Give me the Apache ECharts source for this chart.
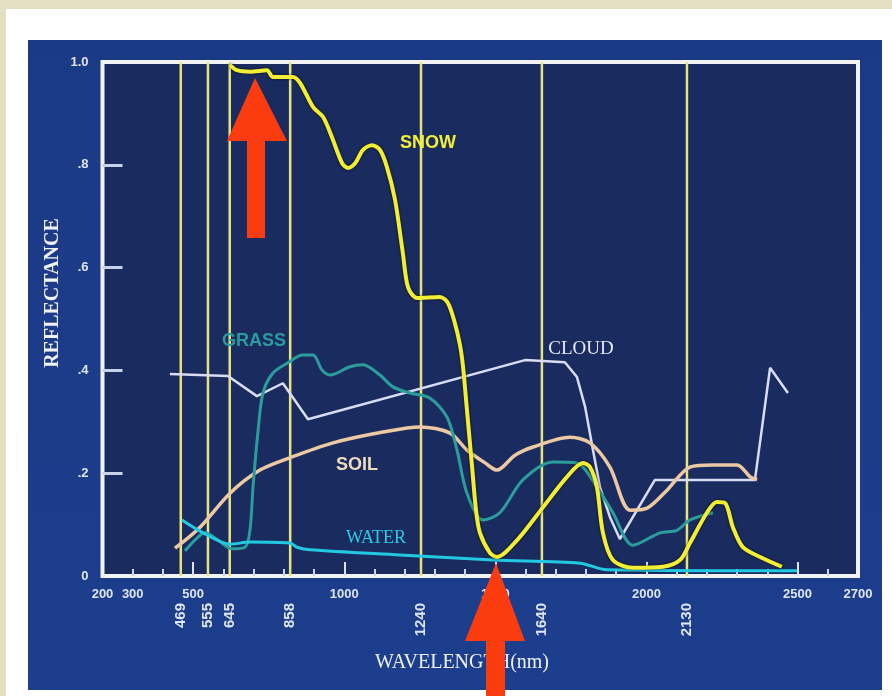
<!DOCTYPE html>
<html><head><meta charset="utf-8">
<script src="https://cdn.jsdelivr.net/npm/echarts@6/dist/echarts.min.js"></script>
<style>
html,body{margin:0;padding:0;width:892px;height:696px;overflow:hidden;background:#e4dfc2;}
#frame{position:absolute;left:6px;top:9px;width:886px;height:687px;background:#ffffff;}
#panel{position:absolute;left:28px;top:40px;width:854px;height:650px;background:linear-gradient(180deg,#1b3a86 0%,#1c3e8c 100%);}
#chart{position:absolute;left:0;top:0;width:892px;height:696px;}
</style></head><body>
<div id="frame"></div><div id="panel"></div><div id="chart"></div>
<script>
// ---- data ----
var xTickLabels = [200, 300, 500, 1000, 1500, 2000, 2500, 2700];
var xMajorTicks = [500, 1000, 1500, 2000, 2500];
var yTickLabels = ["0", ".2", ".4", ".6", ".8", "1.0"];
var bandPos = [459, 549, 621, 821, 1254, 1654, 2134];
var bandLabels = ["469", "555", "645", "858", "1240", "1640", "2130"];

var snowX = [622,645,688,744,764,830,854,897,930,959,993,1012,1036,1062,1092,1118,1141,1168,1194,1211,1241,1317,1343,1366,1383,1393,1406,1423,1436,1449,1482,1505,1572,1658,1737,1790,1813,1836,1856,1889,1955,2055,2111,2144,2200,2233,2260,2286,2319,2376,2448];
var snowY = [0.994,0.984,0.981,0.984,0.971,0.971,0.959,0.912,0.893,0.854,0.803,0.794,0.803,0.829,0.838,0.829,0.796,0.732,0.628,0.562,0.541,0.543,0.531,0.492,0.449,0.407,0.323,0.212,0.128,0.084,0.045,0.037,0.070,0.134,0.193,0.220,0.212,0.173,0.084,0.031,0.016,0.018,0.031,0.064,0.123,0.144,0.142,0.095,0.056,0.037,0.018];

var grassX = [473,506,539,582,629,672,688,698,715,731,764,811,863,897,926,953,1019,1062,1118,1161,1218,1284,1340,1373,1406,1459,1515,1591,1691,1770,1836,1889,1955,2045,2101,2144,2220];
var grassY = [0.049,0.070,0.084,0.070,0.053,0.056,0.089,0.173,0.284,0.356,0.395,0.414,0.430,0.430,0.401,0.391,0.407,0.411,0.391,0.368,0.356,0.346,0.309,0.245,0.161,0.109,0.123,0.187,0.222,0.220,0.173,0.123,0.060,0.084,0.089,0.109,0.123];

var cloudX = [423,615,711,797,880,1598,1730,1770,1797,1823,1846,1879,1912,2028,2359,2409,2468];
var cloudY = [0.393,0.389,0.350,0.375,0.305,0.420,0.416,0.387,0.329,0.245,0.173,0.115,0.072,0.187,0.187,0.405,0.356];

var soilX = [440,523,622,721,820,963,1128,1251,1350,1406,1466,1505,1565,1625,1747,1813,1879,1946,2002,2068,2144,2220,2300,2343,2366];
var soilY = [0.054,0.095,0.161,0.206,0.230,0.259,0.280,0.290,0.278,0.245,0.220,0.206,0.235,0.251,0.270,0.259,0.212,0.128,0.132,0.167,0.212,0.216,0.216,0.193,0.187];

var waterX = [463,533,622,688,820,844,887,1184,1492,1780,1869,2498];
var waterY = [0.109,0.084,0.062,0.066,0.064,0.056,0.051,0.041,0.031,0.025,0.012,0.010];

// ---- build ----
function pairs(xs, ys) { return xs.map(function (x, i) { return [x, ys[i]]; }); }
var minorTicks = [];
for (var t = 300; t <= 2600; t += 100) minorTicks.push(t);

var chart = echarts.init(document.getElementById('chart'), null, {renderer: 'canvas'});
var labelColor = '#dfe5f3';
var sans = '"Liberation Sans", Arial, sans-serif';
var serif = '"Liberation Serif", "Times New Roman", serif';

var series = [];
bandPos.forEach(function (v) {
  series.push({
    type: 'line', data: [[v, 0], [v, 1]], showSymbol: false, silent: true, z: 1,
    lineStyle: {color: '#e6e47e', width: 2.5}
  });
});
function curve(xs, ys, color, width, smooth, extra) {
  series.push({
    type: 'line', data: pairs(xs, ys), showSymbol: false, smooth: smooth, silent: true, z: 3,
    lineStyle: Object.assign({color: color, width: width}, extra || {})
  });
}
curve(cloudX, cloudY, '#d9dcf3', 2.5, false);
curve(soilX, soilY, '#ecc9a2', 3.5, 0.3);
curve(grassX, grassY, '#2b9e9b', 3, 0.3);
curve(waterX, waterY, '#22c9e2', 3, 0.3);
curve(snowX, snowY, '#f3ee33', 4, 0.3, {shadowColor: 'rgba(0,0,0,0.7)', shadowBlur: 3});

var option = {
  animation: false,
  backgroundColor: 'transparent',
  grid: {left: 102.5, right: 34, top: 62, bottom: 120, show: true,
         backgroundColor: '#1a2c5f', borderColor: '#f2f3f8', borderWidth: 4},
  xAxis: [
    {type: 'value', min: 200, max: 2700, position: 'bottom',
     axisLine: {show: false}, splitLine: {show: false},
     axisTick: {show: true, inside: true, length: 7, customValues: minorTicks,
                lineStyle: {color: '#cfd6ea', width: 2}},
     axisLabel: {show: true, customValues: xTickLabels, margin: 12, color: labelColor,
                 fontFamily: sans, fontWeight: 'bold', fontSize: 13,
                 formatter: function (v) { return String(v); }}},
    {type: 'value', min: 200, max: 2700, position: 'bottom',
     axisLine: {show: false}, splitLine: {show: false},
     axisTick: {show: true, inside: true, length: 14, customValues: xMajorTicks,
                lineStyle: {color: '#dfe4f2', width: 2}},
     axisLabel: {show: false}},
    {type: 'value', min: 200, max: 2700, position: 'bottom',
     axisLine: {show: false}, splitLine: {show: false}, axisTick: {show: false},
     axisLabel: {show: true, customValues: bandPos, rotate: 90, margin: 27, color: labelColor,
                 fontFamily: sans, fontWeight: 'bold', fontSize: 15,
                 formatter: function (v) { var i = bandPos.indexOf(v); return i >= 0 ? bandLabels[i] : ''; }}}
  ],
  yAxis: {type: 'value', min: 0, max: 1, interval: 0.2,
    axisLine: {show: false}, splitLine: {show: false},
    axisTick: {show: true, inside: true, length: 20, customValues: [0.2, 0.4, 0.6, 0.8],
               lineStyle: {color: '#c9d1e8', width: 3}},
    axisLabel: {margin: 14, color: labelColor, fontFamily: sans, fontWeight: 'bold', fontSize: 13,
                formatter: function (v) { return yTickLabels[Math.round(v / 0.2)]; }}},
  series: series,
  graphic: [
    {type: 'text', x: 53, y: 293, rotation: Math.PI / 2, z: 50,
     style: {text: 'REFLECTANCE', fill: '#f0f1f6', font: 'bold 20px ' + serif, align: 'center', verticalAlign: 'middle'}},
    {type: 'text', x: 462, y: 663, z: 50,
     style: {text: 'WAVELENGTH(nm)', fill: '#f0f1f6', font: '20px ' + serif, align: 'center', verticalAlign: 'middle'}},
    {type: 'text', x: 428, y: 143, z: 50,
     style: {text: 'SNOW', fill: '#f2ee3a', font: 'bold 18px ' + sans, align: 'center', verticalAlign: 'middle'}},
    {type: 'text', x: 254, y: 341, z: 50,
     style: {text: 'GRASS', fill: '#2a9c9c', font: 'bold 18px ' + sans, align: 'center', verticalAlign: 'middle'}},
    {type: 'text', x: 581, y: 349, z: 50,
     style: {text: 'CLOUD', fill: '#e8e9f6', font: '19px ' + serif, align: 'center', verticalAlign: 'middle'}},
    {type: 'text', x: 357, y: 465, z: 50,
     style: {text: 'SOIL', fill: '#efdcbc', font: 'bold 18px ' + sans, align: 'center', verticalAlign: 'middle'}},
    {type: 'text', x: 376, y: 538, z: 50,
     style: {text: 'WATER', fill: '#2fc6e6', font: '18px ' + serif, align: 'center', verticalAlign: 'middle'}},
    {type: 'polygon', z: 100,
     shape: {points: [[255, 78], [287, 141], [265, 141], [265, 238], [247, 238], [247, 141], [227, 141]]},
     style: {fill: '#fa3c0f'}},
    {type: 'polygon', z: 100,
     shape: {points: [[496, 563], [525, 641], [505, 641], [505, 696], [486, 696], [486, 641], [465, 641]]},
     style: {fill: '#fa3c0f'}}
  ]
};
chart.setOption(option);
</script></body></html>
